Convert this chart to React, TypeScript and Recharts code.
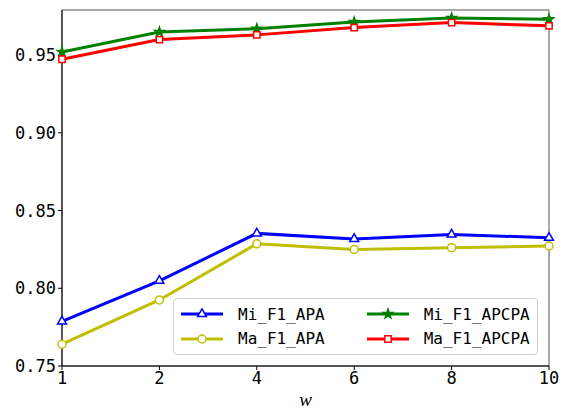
import { LineChart, Line, XAxis, YAxis, Legend, Symbols, ReferenceArea } from 'recharts'

const wValues = ['1', '2', '4', '6', '8', '10']
const miF1Apa = [0.7787, 0.8048, 0.8353, 0.8317, 0.8346, 0.8325]
const maF1Apa = [0.764, 0.7925, 0.8286, 0.825, 0.8261, 0.8272]
const miF1Apcpa = [0.952, 0.9649, 0.967, 0.9713, 0.9739, 0.973]
const maF1Apcpa = [0.9473, 0.96, 0.963, 0.9677, 0.9709, 0.9688]
const yTicks = [0.75, 0.8, 0.85, 0.9, 0.95]
const yTop = 0.979

const data = wValues.map((w, i) => ({
  w,
  miApa: miF1Apa[i],
  maApa: maF1Apa[i],
  miApcpa: miF1Apcpa[i],
  maApcpa: maF1Apcpa[i],
}))

const series = [
  { key: 'miApa', name: 'Mi_F1_APA', color: '#0000ff', marker: 'triangle', size: 34, filled: false },
  { key: 'maApa', name: 'Ma_F1_APA', color: '#bfbf00', marker: 'circle', size: 50, filled: false },
  { key: 'miApcpa', name: 'Mi_F1_APCPA', color: '#008000', marker: 'star', size: 26, filled: true },
  { key: 'maApcpa', name: 'Ma_F1_APCPA', color: '#ff0000', marker: 'square', size: 40, filled: false },
]

const monoFont = '"DejaVu Sans Mono", "Liberation Mono", monospace'

function makeDot(s: (typeof series)[number]) {
  return (props: any) => {
    const { cx, cy, index } = props
    if (cx == null || cy == null) return <g key={index} />
    return (
      <Symbols
        key={index}
        cx={cx}
        cy={cy}
        type={s.marker as any}
        size={s.size}
        fill={s.filled ? s.color : '#ffffff'}
        stroke={s.color}
        strokeWidth={1.5}
      />
    )
  }
}

function LegendBox() {
  const col = (items: typeof series) => (
    <div style={{ display: 'flex', flexDirection: 'column', gap: 4 }}>
      {items.map((s) => (
        <div key={s.key} style={{ display: 'flex', alignItems: 'center', height: 22 }}>
          <svg width={44} height={16} style={{ marginRight: 14 }}>
            <line x1={1} y1={8} x2={43} y2={8} stroke={s.color} strokeWidth={3} />
            <Symbols
              cx={22}
              cy={8}
              type={s.marker as any}
              size={s.size}
              fill={s.filled ? s.color : '#ffffff'}
              stroke={s.color}
              strokeWidth={1.5}
            />
          </svg>
          <span style={{ fontFamily: monoFont, fontSize: 16, color: '#000' }}>{s.name}</span>
        </div>
      ))}
    </div>
  )
  return (
    <div
      style={{
        display: 'flex',
        gap: 41,
        padding: '5px 6px',
        background: 'rgba(255,255,255,0.85)',
        border: '1px solid #d0d0d0',
        borderRadius: 4,
        boxSizing: 'border-box',
        width: 365,
        height: 57,
      }}
    >
      {col(series.slice(0, 2))}
      {col(series.slice(2, 4))}
    </div>
  )
}

export default function App() {
  return (
    <div style={{ position: 'absolute', left: 0, top: 0, width: 563, height: 411, background: '#fff' }}>
      <LineChart width={563} height={411} data={data} margin={{ top: 10, right: 14, bottom: 0, left: 0 }}>
        <XAxis
          dataKey="w"
          height={45}
          tickSize={4}
          tickLine={{ stroke: '#000' }}
          axisLine={{ stroke: '#000', strokeWidth: 1 }}
          tick={{ fill: '#000', fontSize: 17, fontFamily: monoFont }}
          label={{ value: 'w', position: 'insideBottom', offset: 5, style: { fontFamily: '"Liberation Serif", serif', fontStyle: 'italic', fontSize: 19, fill: '#000' } }}
        />
        <YAxis
          domain={[0.75, yTop]}
          ticks={yTicks}
          width={62}
          allowDataOverflow
          tickSize={4}
          tickLine={{ stroke: '#000' }}
          axisLine={{ stroke: '#000', strokeWidth: 1 }}
          tickFormatter={(v: number) => v.toFixed(2)}
          tick={{ fill: '#000', fontSize: 17, fontFamily: monoFont }}
        />
        <ReferenceArea
          x1={wValues[0]}
          x2={wValues[wValues.length - 1]}
          y1={0.75}
          y2={yTop}
          fill="none"
          stroke="#555"
          strokeWidth={1}
          ifOverflow="visible"
        />
        {series.map((s) => (
          <Line
            key={s.key}
            dataKey={s.key}
            name={s.name}
            type="linear"
            stroke={s.color}
            strokeWidth={3}
            dot={makeDot(s)}
            activeDot={false}
            isAnimationActive={false}
          />
        ))}
        <Legend
          layout="vertical"
          align="center"
          verticalAlign="middle"
          content={<LegendBox />}
          wrapperStyle={{ position: 'absolute', left: 173, top: 298, width: 365, height: 57 }}
        />
      </LineChart>
    </div>
  )
}
